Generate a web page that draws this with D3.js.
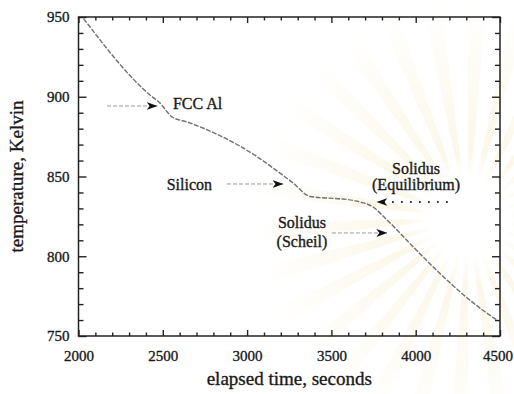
<!DOCTYPE html>
<html>
<head>
<meta charset="utf-8">
<script src="https://cdn.jsdelivr.net/npm/d3@7"></script>
<style>
  body { margin: 0; background: #fff; }
  svg { display: block; }
</style>
</head>
<body>
<svg id="chart" width="514" height="394"></svg>
<script>
// Cooling curve: temperature vs elapsed time
const timeSec = [2030, 2424, 2483, 2555, 2644, 2821, 2958, 3065, 3177, 3272, 3373, 3474, 3569, 3670, 3747, 3818, 3889, 3984, 4185, 4381, 4482];
const tempK   = [949, 901.1, 896.1, 887.3, 884.2, 876.5, 869.0, 862.0, 853.5, 846.0, 837.5, 836.5, 835.9, 834.0, 830.9, 824.0, 816.5, 806.0, 785.1, 767.5, 760.0];

const xTicks = [2000, 2500, 3000, 3500, 4000, 4500];
const yTicks = [750, 800, 850, 900, 950];
const xMinorStep = 100;
const yMinorStep = 10;

// Annotation text (time, temperature, anchor)
const labelText   = ["FCC Al", "Silicon", "Solidus", "(Equilibrium)", "Solidus", "(Scheil)"];
const labelT      = [2560, 2792, 4002, 4002, 3325, 3325];
const labelK      = [896, 845.3, 855.3, 845.3, 821.5, 809];
const labelAnchor = ["start", "end", "middle", "middle", "middle", "middle"];

// Annotation arrows (tail time, tip time, temperature, line kind)
const arrowFrom = [2169, 2881, 4185, 3503];
const arrowTo   = [2466, 3213, 3770, 3829];
const arrowAt   = [894.2, 845.3, 834, 814.6];
const arrowKind = ["dash", "dash", "dot", "dash"];

const svg = d3.select("#chart");
const W = 514;
const plot = { left: 78.5, right: 500, top: 17, bottom: 336 };

const x = d3.scaleLinear().domain([2000, 4500]).range([plot.left, plot.right]);
const y = d3.scaleLinear().domain([750, 950]).range([plot.bottom, plot.top]);

const defs = svg.append("defs");

// faint sunburst in the background, centred at the origin of its own group
const sunCx = 468, sunCy = 218;
const grad = defs.append("radialGradient")
  .attr("id", "rayFade").attr("gradientUnits", "userSpaceOnUse")
  .attr("cx", 0).attr("cy", 0).attr("r", 215);
grad.append("stop").attr("offset", "0.17").attr("stop-color", "#f2e3b0").attr("stop-opacity", 0);
grad.append("stop").attr("offset", "0.32").attr("stop-color", "#f2e3b0").attr("stop-opacity", 0.28);
grad.append("stop").attr("offset", "1").attr("stop-color", "#f2e3b0").attr("stop-opacity", 0);

const rayCount = 30;
const rayArc = d3.arc().innerRadius(36).outerRadius(215);
svg.append("g").attr("transform", `translate(${sunCx},${sunCy})`)
  .selectAll("path").data(d3.range(rayCount)).join("path")
  .attr("d", i => {
    const a0 = i * 2 * Math.PI / rayCount;
    return rayArc({ startAngle: a0, endAngle: a0 + Math.PI / rayCount * 0.8 });
  })
  .attr("fill", "url(#rayFade)");

// arrowhead marker
defs.append("marker")
  .attr("id", "head").attr("markerUnits", "userSpaceOnUse")
  .attr("viewBox", "0 0 11 8").attr("markerWidth", 11).attr("markerHeight", 8)
  .attr("refX", 10.5).attr("refY", 4).attr("orient", "auto")
  .append("path").attr("d", "M0,0 L11,4 L0,8 L3,4 Z").attr("fill", "#111");

// axes: major and minor ticks pointing inward on all four sides
const font = "'Liberation Serif', 'Times New Roman', serif";
const xMinor = d3.range(xTicks[0], xTicks[xTicks.length - 1] + 1, xMinorStep).filter(v => !xTicks.includes(v));
const yMinor = d3.range(yTicks[0], yTicks[yTicks.length - 1] + 1, yMinorStep).filter(v => !yTicks.includes(v));

function styleText(sel, size) {
  return sel.attr("font-family", font).attr("font-size", size)
    .attr("fill", "#1a1a1a").attr("stroke", "#1a1a1a").attr("stroke-width", 0.35);
}

function addAxis(axis, tx, ty) {
  const g = svg.append("g").attr("transform", `translate(${tx},${ty})`).call(axis);
  g.select(".domain").remove();
  g.selectAll("line").attr("stroke", "#222").attr("stroke-width", 1.4);
  styleText(g.selectAll("text"), 15);
  return g;
}

const bottomAxis = addAxis(d3.axisBottom(x).tickValues(xTicks).tickSize(-6).tickPadding(14).tickFormat(d3.format("d")), 0, plot.bottom);
// keep the last label inside the page edge
bottomAxis.selectAll("text").each(function() {
  const box = this.getBBox();
  const tx = this.parentNode.transform.baseVal.consolidate().matrix.e;
  const overflow = tx + box.x + box.width - (W - 1);
  if (overflow > 0) d3.select(this).attr("x", -overflow);
});
addAxis(d3.axisBottom(x).tickValues(xMinor).tickSize(-3.5).tickFormat(""), 0, plot.bottom);
addAxis(d3.axisTop(x).tickValues(xTicks).tickSize(-6).tickFormat(""), 0, plot.top);
addAxis(d3.axisTop(x).tickValues(xMinor).tickSize(-3.5).tickFormat(""), 0, plot.top);
addAxis(d3.axisLeft(y).tickValues(yTicks).tickSize(-8).tickPadding(9).tickFormat(d3.format("d")), plot.left, 0);
addAxis(d3.axisLeft(y).tickValues(yMinor).tickSize(-5).tickFormat(""), plot.left, 0);
addAxis(d3.axisRight(y).tickValues(yTicks).tickSize(-8).tickFormat(""), plot.right, 0);
addAxis(d3.axisRight(y).tickValues(yMinor).tickSize(-5).tickFormat(""), plot.right, 0);

// frame
svg.append("rect")
  .attr("x", plot.left).attr("y", plot.top)
  .attr("width", plot.right - plot.left).attr("height", plot.bottom - plot.top)
  .attr("fill", "none").attr("stroke", "#222").attr("stroke-width", 1.5);

// cooling curve
const pts = timeSec.map((t, i) => [t, tempK[i]]);
svg.append("path")
  .datum(pts)
  .attr("d", d3.line().x(d => x(d[0])).y(d => y(d[1])).curve(d3.curveMonotoneX))
  .attr("fill", "none").attr("stroke", "#707070").attr("stroke-width", 1.4)
  .attr("stroke-dasharray", "5,1.5");

// arrows
arrowFrom.forEach((t0, i) => {
  const dot = arrowKind[i] === "dot";
  svg.append("line")
    .attr("x1", x(t0)).attr("x2", x(arrowTo[i]))
    .attr("y1", y(arrowAt[i])).attr("y2", y(arrowAt[i]))
    .attr("stroke", dot ? "#111" : "#9a9a9a")
    .attr("stroke-width", dot ? 2 : 1)
    .attr("stroke-linecap", dot ? "round" : "butt")
    .attr("stroke-dasharray", dot ? "0,9" : "4,2")
    .attr("marker-end", "url(#head)");
});

// annotation labels
labelText.forEach((s, i) => {
  styleText(svg.append("text"), 16)
    .attr("x", x(labelT[i])).attr("y", y(labelK[i]))
    .attr("dy", "0.35em")
    .attr("text-anchor", labelAnchor[i])
    .text(s);
});

// axis titles
styleText(svg.append("text"), 19)
  .attr("x", (plot.left + plot.right) / 2).attr("y", 385)
  .attr("text-anchor", "middle")
  .text("elapsed time, seconds");

styleText(svg.append("text"), 19)
  .attr("transform", `translate(23,${(plot.top + plot.bottom) / 2}) rotate(-90)`)
  .attr("text-anchor", "middle")
  .text("temperature, Kelvin");
</script>
</body>
</html>
